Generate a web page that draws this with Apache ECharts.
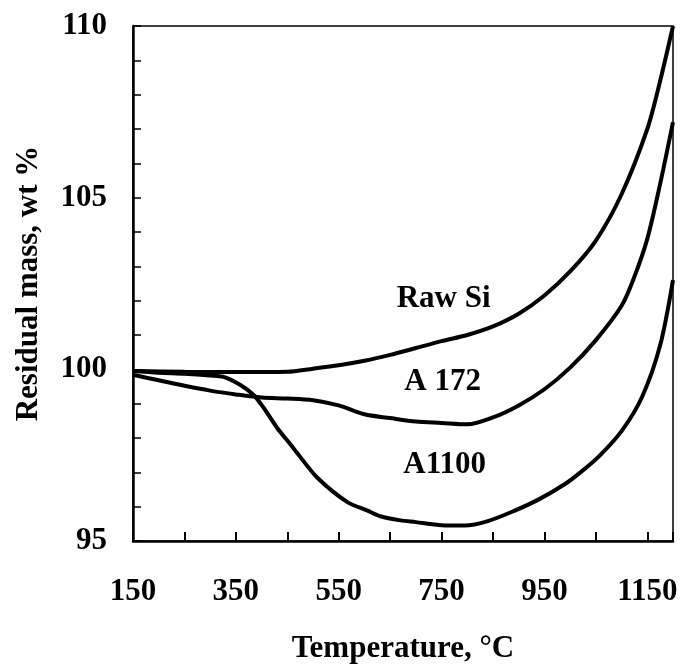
<!DOCTYPE html>
<html>
<head>
<meta charset="utf-8">
<script src="https://cdn.jsdelivr.net/npm/echarts@6/dist/echarts.min.js"></script>
<style>html,body{margin:0;padding:0;background:#fff;}#c{width:683px;height:669px;}</style>
</head>
<body>
<div id="c"></div>
<script>
// Data
const rawSiT = [150, 250, 350, 450, 500, 550, 600, 650, 700, 750, 800, 850, 900, 950, 1000, 1050, 1100, 1150, 1175, 1200];
const rawSiM = [99.95, 99.93, 99.92, 99.93, 100.02, 100.12, 100.25, 100.42, 100.62, 100.82, 101.0, 101.25, 101.62, 102.15, 102.85, 103.75, 105.1, 107.0, 108.4, 110.0];

const a172T = [150, 200, 250, 300, 350, 400, 450, 500, 550, 600, 650, 700, 750, 800, 850, 900, 950, 1000, 1050, 1100, 1125, 1150, 1175, 1200];
const a172M = [99.84, 99.68, 99.52, 99.38, 99.27, 99.18, 99.15, 99.1, 98.95, 98.69, 98.58, 98.48, 98.44, 98.4, 98.6, 98.95, 99.42, 100.05, 100.85, 101.85, 102.7, 103.8, 105.4, 107.2];

const a1100T = [150, 200, 250, 300, 326, 358, 384, 404, 430, 456, 470, 508, 567, 605, 631, 670, 700, 750, 795, 840, 890, 940, 990, 1020, 1055, 1100, 1140, 1175, 1200];
const a1100M = [99.95, 99.9, 99.87, 99.82, 99.78, 99.55, 99.26, 98.88, 98.3, 97.82, 97.55, 96.85, 96.13, 95.89, 95.72, 95.6, 95.55, 95.46, 95.45, 95.58, 95.87, 96.22, 96.66, 97.0, 97.45, 98.2, 99.2, 100.7, 102.6];

const xTickLabels = [150, 350, 550, 750, 950, 1150];
const yTickLabels = [95, 100, 105, 110];

const curveLabels = [
  { name: 'Raw Si', coord: [754, 102.06] },
  { name: 'A 172', coord: [752, 99.63] },
  { name: 'A1100', coord: [756, 97.2] }
];

const FONT = '"Liberation Serif", "Times New Roman", serif';
const FS = 31;

function pairs(t, m) { return t.map((x, i) => [x, m[i]]); }

const chart = echarts.init(document.getElementById('c'));

const lineStyle = { color: '#000', width: 4 };

function mkSeries(name, t, m, label) {
  return {
    name: name,
    type: 'line',
    data: pairs(t, m),
    showSymbol: false,
    smooth: 0.3,
    lineStyle: lineStyle,
    itemStyle: { color: '#000' },
    silent: true,
    markPoint: {
      symbol: 'circle',
      symbolSize: 0,
      silent: true,
      label: {
        show: true,
        position: 'inside',
        formatter: label.name,
        color: '#000',
        fontFamily: FONT,
        fontWeight: 'bold',
        fontSize: FS
      },
      data: [{ coord: label.coord }]
    }
  };
}

chart.setOption({
  animation: false,
  backgroundColor: '#fff',
  grid: {
    left: 133, right: 10, top: 26, bottom: 125,
    show: true, borderColor: '#000', borderWidth: 1.5, backgroundColor: 'transparent'
  },
  xAxis: {
    type: 'value',
    min: 150, max: 1200, interval: 100,
    name: 'Temperature, °C',
    nameLocation: 'middle',
    nameGap: 92,
    nameTextStyle: { color: '#000', fontFamily: FONT, fontWeight: 'bold', fontSize: FS },
    axisLine: { show: true, lineStyle: { color: '#000', width: 2.5 } },
    axisTick: { show: true, inside: true, length: 9, lineStyle: { color: '#000', width: 2 } },
    splitLine: { show: false },
    axisLabel: {
      margin: 35,
      color: '#000', fontFamily: FONT, fontWeight: 'bold', fontSize: FS,
      formatter: function (v) { return xTickLabels.indexOf(v) >= 0 ? String(v) : ''; }
    }
  },
  yAxis: {
    type: 'value',
    min: 95, max: 110, interval: 1,
    name: 'Residual mass, wt %',
    nameLocation: 'middle',
    nameGap: 89,
    nameTextStyle: { color: '#000', fontFamily: FONT, fontWeight: 'bold', fontSize: FS },
    axisLine: { show: true, lineStyle: { color: '#000', width: 2.5 } },
    axisTick: { show: true, inside: true, length: 8, lineStyle: { color: '#000', width: 1.5 } },
    splitLine: { show: false },
    axisLabel: {
      margin: 26,
      color: '#000', fontFamily: FONT, fontWeight: 'bold', fontSize: FS,
      formatter: function (v) { return yTickLabels.indexOf(v) >= 0 ? String(v) : ''; }
    }
  },
  series: [
    mkSeries('Raw Si', rawSiT, rawSiM, curveLabels[0]),
    mkSeries('A 172', a172T, a172M, curveLabels[1]),
    mkSeries('A1100', a1100T, a1100M, curveLabels[2])
  ]
});
</script>
</body>
</html>
